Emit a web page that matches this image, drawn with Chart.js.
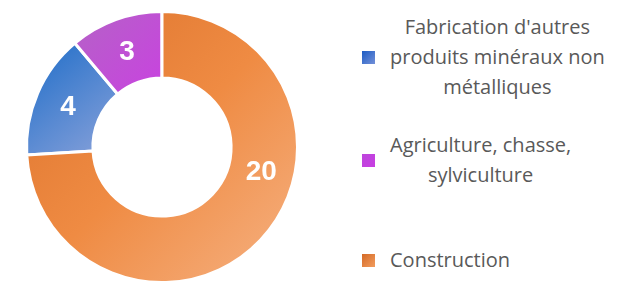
<!DOCTYPE html>
<html>
<head>
<meta charset="utf-8">
<script src="https://cdn.jsdelivr.net/npm/chart.js@4.4.1/dist/chart.umd.min.js"></script>
<style>
    html, body { margin: 0; padding: 0; background: #fff; }
    body { width: 626px; height: 286px; position: relative; overflow: hidden; }
    #chartBox { position: absolute; left: 0; top: 0; width: 324px; height: 286px; }
    #legend { position: absolute; left: 362px; top: 0; width: 264px; font-family: "Open Sans", sans-serif; font-size: 20px; color: #595959; }
    .item { position: absolute; left: 0; display: flex; align-items: center; }
    .box { width: 13px; height: 13px; margin-right: 15px; flex: none; }
    .txt { text-align: center; line-height: 30px; white-space: nowrap; }
</style>
</head>
<body>
<div id="chartBox"><canvas id="donut"></canvas></div>
<div id="legend"></div>

<script>
// ======== data ========
const categories = [
    ["Fabrication d'autres", "produits minéraux non", "métalliques"],
    ["Agriculture, chasse,", "sylviculture"],
    ["Construction"]
];
const values = [4, 3, 20];

// gradient stops per slice (start -> end)
const sliceStops = [
    ["#1c6cc8", "#8aa2da"],
    ["#b463c6", "#c942e0"],
    ["#dc722b", "#ef8b43", "#f6b283"]
];
const boxStops = [
    ["#1d5cc4", "#7390d8"],
    ["#bd45dc", "#c83ee2"],
    ["#d46a26", "#f29c5e"]
];
// where along each slice the value label sits (0 = start, 1 = end)
const labelAnchor = [0.5, 0.5, 0.39];

const total = values.reduce((a, b) => a + b, 0);
// first slice starts where the last one (which ends at 12 o'clock) begins
const rotation = 360 * values[values.length - 1] / total;

// -----------------------------
// Gradient for one slice, over its own bounding box
// -----------------------------
function sliceGradient(ctx) {
    const chart = ctx.chart;
    const i = ctx.dataIndex;
    const area = chart.chartArea;
    const stops = sliceStops[i];
    if (!area || ctx.type !== "data") return stops[1];

    const cx = (area.left + area.right) / 2;
    const cy = (area.top + area.bottom) / 2;
    const R = Math.min(area.width, area.height) / 2;
    const r = R * 0.51;

    let before = 0;
    for (let k = 0; k < i; k++) before += values[k];
    const a0 = (rotation - 90) * Math.PI / 180 + before / total * Math.PI * 2;
    const a1 = a0 + values[i] / total * Math.PI * 2;

    let minX = Infinity, minY = Infinity, maxX = -Infinity, maxY = -Infinity;
    for (let s = 0; s <= 40; s++) {
        const a = a0 + (a1 - a0) * s / 40;
        [R, r].forEach(rad => {
            const x = cx + Math.cos(a) * rad, y = cy + Math.sin(a) * rad;
            minX = Math.min(minX, x); maxX = Math.max(maxX, x);
            minY = Math.min(minY, y); maxY = Math.max(maxY, y);
        });
    }
    const g = chart.ctx.createLinearGradient(minX, minY, maxX, maxY);
    stops.forEach((c, k) => g.addColorStop(k / (stops.length - 1), c));
    return g;
}

// -----------------------------
// Value labels inside slices
// -----------------------------
const valueLabels = {
    id: "valueLabels",
    afterDatasetsDraw(chart) {
        const ctx = chart.ctx;
        const meta = chart.getDatasetMeta(0);
        ctx.save();
        ctx.fillStyle = "#ffffff";
        ctx.font = "bold 28px 'Liberation Sans', Arial, sans-serif";
        ctx.textAlign = "center";
        ctx.textBaseline = "middle";
        meta.data.forEach((arc, i) => {
            const a = arc.startAngle + (arc.endAngle - arc.startAngle) * labelAnchor[i];
            const rad = (arc.innerRadius + arc.outerRadius) / 2;
            ctx.fillText(String(values[i]), arc.x + Math.cos(a) * rad, arc.y + Math.sin(a) * rad + 1);
        });
        ctx.restore();
    }
};

new Chart(document.getElementById("donut"), {
    type: "doughnut",
    data: {
        labels: categories,
        datasets: [{
            data: values,
            backgroundColor: sliceGradient,
            borderColor: "#ffffff",
            borderWidth: 3
        }]
    },
    options: {
        responsive: true,
        maintainAspectRatio: false,
        animation: false,
        rotation: rotation,
        cutout: "51%",
        layout: { padding: { top: 10, bottom: 2, left: 0, right: 0 } },
        plugins: {
            legend: { display: false },
            tooltip: { enabled: false }
        }
    },
    plugins: [valueLabels]
});

// -----------------------------
// Legend (html)
// -----------------------------
const legendTops = [12, 130, 245];
const legendEl = document.getElementById("legend");
categories.forEach((lines, i) => {
    const item = document.createElement("div");
    item.className = "item";
    item.style.top = legendTops[i] + "px";
    const box = document.createElement("div");
    box.className = "box";
    box.style.background = `linear-gradient(135deg, ${boxStops[i][0]}, ${boxStops[i][1]})`;
    const txt = document.createElement("div");
    txt.className = "txt";
    txt.innerHTML = lines.join("<br>");
    item.appendChild(box);
    item.appendChild(txt);
    legendEl.appendChild(item);
});
</script>
</body>
</html>
